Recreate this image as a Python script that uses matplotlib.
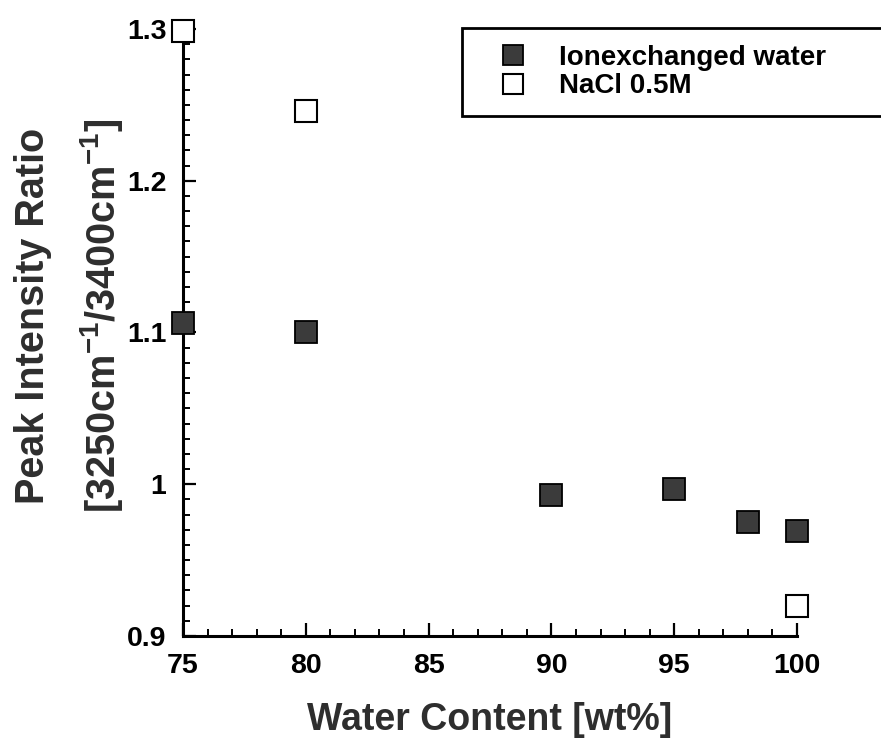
import matplotlib
matplotlib.use("Agg")
import matplotlib.pyplot as plt
from matplotlib.ticker import MultipleLocator, FuncFormatter

plt.rcParams['font.family'] = ['Liberation Sans', 'DejaVu Sans']
plt.rcParams['font.weight'] = 'bold'
plt.rcParams['mathtext.default'] = 'regular'

# Data
ion_x = [75, 80, 90, 95, 98, 100]
ion_y = [1.106, 1.100, 0.993, 0.997, 0.975, 0.969]
nacl_x = [75, 80, 100]
nacl_y = [1.299, 1.246, 0.920]

x_ticks = [75, 80, 85, 90, 95, 100]
y_ticks = [0.9, 1.0, 1.1, 1.2, 1.3]

fig = plt.figure(figsize=(8.81, 7.48), dpi=100)
ax = fig.add_axes([183/881, 1-636/748, (797-183)/881, (636-29)/748])

ax.plot(ion_x, ion_y, ls='none', marker='s', ms=16.5, mfc='#3b3b3b', mec='black',
        mew=1.3, clip_on=False, zorder=5, label='Ionexchanged water')
ax.plot(nacl_x, nacl_y, ls='none', marker='s', ms=15.5, mfc='white', mec='black',
        mew=1.5, clip_on=False, zorder=5, label='NaCl 0.5M')

ax.set_xlim(75, 100)
ax.set_ylim(0.9, 1.3)
ax.set_xticks(x_ticks)
ax.set_yticks(y_ticks)
ax.xaxis.set_minor_locator(MultipleLocator(1))
ax.yaxis.set_minor_locator(MultipleLocator(0.01))
ax.yaxis.set_major_formatter(FuncFormatter(lambda v, p: f'{v:g}'))

for s in ['top', 'right']:
    ax.spines[s].set_visible(False)
for s in ['left', 'bottom']:
    ax.spines[s].set_linewidth(2.2)

ax.tick_params(which='major', direction='in', length=9.5, width=1.6,
               labelsize=20.5, pad=12)
ax.tick_params(which='minor', direction='in', length=5, width=1.4)
for lab in ax.get_xticklabels() + ax.get_yticklabels():
    lab.set_fontweight('bold')

ax.set_xlabel('Water Content [wt%]', fontsize=27, fontweight='bold',
              color='#2e2e2e', labelpad=17)
ax.set_ylabel('Peak Intensity Ratio\n[3250cm$^{-1}$/3400cm$^{-1}$]', fontsize=28.5,
              fontweight='bold', color='#2e2e2e', linespacing=1.7)
ax.yaxis.set_label_coords(-0.095, 0.527)

leg = ax.legend(loc='upper left', bbox_to_anchor=(462/881, 1-28/748, 0.6, 0.0),
                bbox_transform=fig.transFigure, mode='expand', borderaxespad=0,
                fontsize=20, frameon=True, fancybox=False, framealpha=1,
                edgecolor='black', handlelength=2.5, handletextpad=0.4,
                borderpad=0.6, labelspacing=0.1, markerscale=0.9,
                prop={'weight': 'bold', 'size': 20})
leg.get_frame().set_linewidth(2.0)

fig.savefig('out.png', dpi=100)
